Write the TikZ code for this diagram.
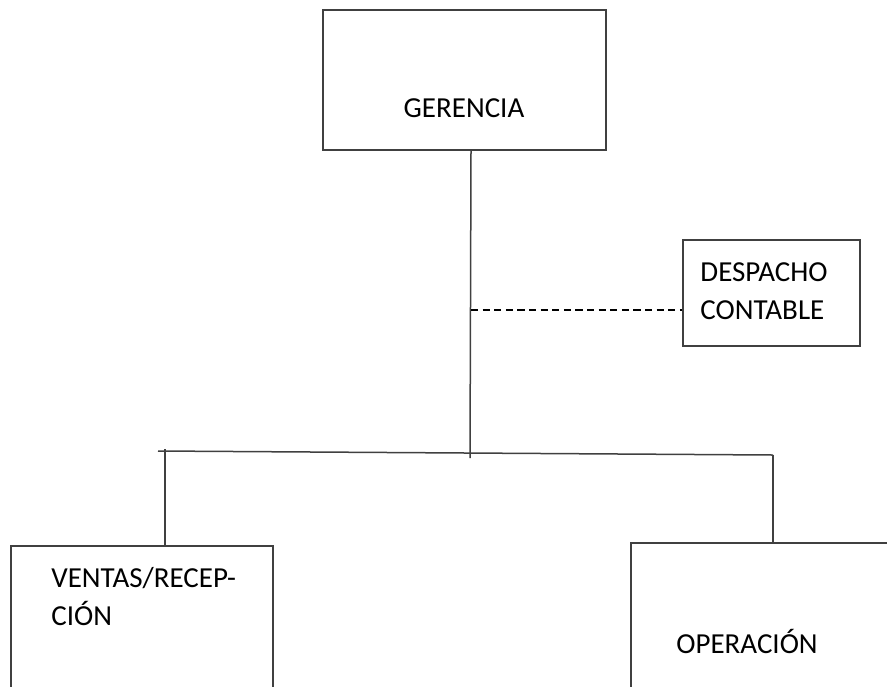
\documentclass[tikz,border=0pt]{standalone}
\usepackage{fontspec}
\setmainfont{Carlito}
\usetikzlibrary{fit}
\begin{document}
\begin{tikzpicture}[x=0.5pt,y=-0.5pt,
  box/.style={draw=black!75,line width=0.75pt,inner sep=0pt},
  lbl/.style={font=\fontsize{14.5}{19}\selectfont,inner sep=0pt},
  conn/.style={draw=black!75,line width=0.75pt},
  dashconn/.style={draw=black,line width=1.4pt,dash pattern=on 3.6pt off 2.2pt}]
\useasboundingbox (0,0) rectangle (887,686);
\fill[white] (0,0) rectangle (887,686);
% boxes
\node[box,fit={(323,10) (606,150)}] (ger) {};
\node[box,fit={(683,240) (860,346)}] (desp) {};
\node[box,fit={(11,546) (273,740)}] (ven) {};
\node[box,fit={(631,543) (920,740)}] (ope) {};
% labels
\node[lbl] (gert) at (464,108) {GERENCIA};
\node[lbl,align=left] (despt) at (764,291) {DESPACHO\\CONTABLE};
\node[lbl,align=left,anchor=west] (vent) at (51,597) {VENTAS/RECEP-\\CIÓN};
\node[lbl] (opet) at (747,641) {OPERACIÓN};
% junctions
\coordinate (jd) at (471,310);
\coordinate (jb) at (470,458);
\coordinate (jl) at (158,451);
\coordinate (jr) at (773,455);
\coordinate (vl) at (165,449);
% connectors
\draw[conn] (ger.south -| jd) -- (jb);
\draw[dashconn] (jd) -- (desp.west |- jd);
\draw[conn] (jl) -- (jr);
\draw[conn] (vl) -- (ven.north -| vl);
\draw[conn] (jr) -- (ope.north -| jr);
\end{tikzpicture}
\end{document}
